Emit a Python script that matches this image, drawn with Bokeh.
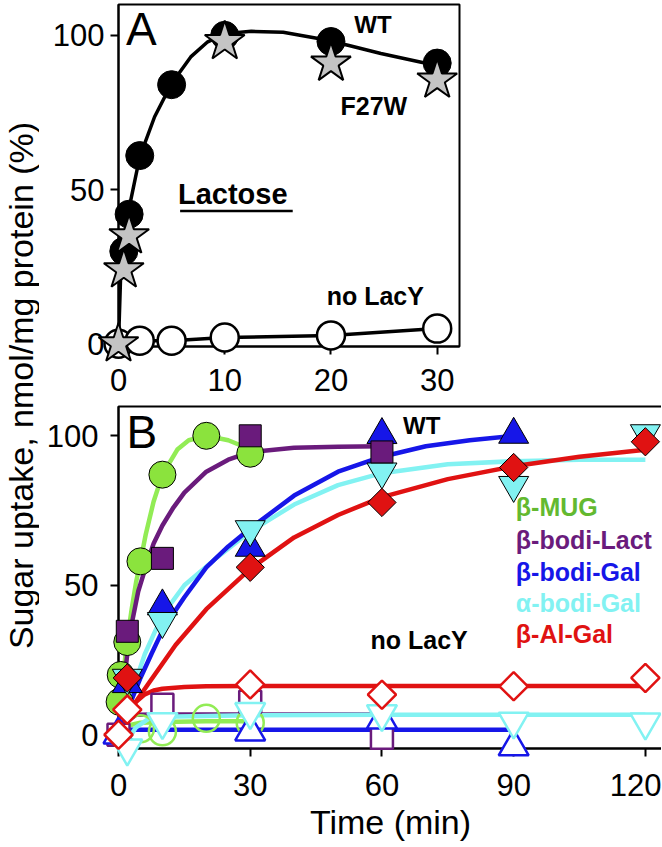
import numpy as np
from bokeh.plotting import figure
from bokeh.layouts import row, column
from bokeh.models import Range1d, FixedTicker, Label
from bokeh.embed import file_html
from bokeh.resources import INLINE
from bokeh.core.properties import value

FONT = "Liberation Sans"

# ---------------- Panel A (lactose) ----------------
a_wt_t = [0, 0.5, 1, 2, 5, 10, 20, 30]
a_wt_y = [0, 30, 42, 61, 84, 100, 98, 91]
a_f27w_t = [0, 0.5, 1, 10, 20, 30]
a_f27w_y = [0, 24, 35, 98, 91, 85.5]
a_nolacy_t = [0, 2, 5, 10, 20, 30]
a_nolacy_y = [0, 1, 1, 2, 2.7, 4.9]
a_fit_t = [0, 0.2, 0.6, 1, 2, 3.4, 5, 6.8, 8.4, 10, 12.5, 15.5, 18.8, 21.6, 24.7, 28.5, 30]
a_fit_y = [0, 22, 36, 44, 60.6, 73.6, 84.4, 93, 97.9, 100.5, 101.3, 101, 99, 96.8, 94.1, 91.3, 90.3]

# ---------------- Panel B (sugars) ----------------
b_mug_t = [0.25, 0.5, 2, 5, 10, 20, 30]
b_mug_y = [11, 20, 31, 58, 87, 100, 94]
b_mug_fit_t = [0, 0.5, 1, 2, 3, 4, 5, 6.2, 8, 10, 13.4, 16, 20, 25, 30]
b_mug_fit_y = [0, 10, 19, 32, 42, 51, 58, 67, 78, 87, 95.4, 98.5, 100, 98.5, 95.5]
b_mug_ctl_t = [5, 10, 20, 30]
b_mug_ctl_y = [2, 1, 5.5, 4]
b_mug_ctl_fit_t = [0, 2, 5, 10, 20, 30]
b_mug_ctl_fit_y = [0, 3, 4, 4.3, 4.5, 4.5]

b_lact_t = [0, 2, 10, 30, 60]
b_lact_y = [0, 34.6, 59, 100, 94.6]
b_lact_fit_t = [0, 1, 2, 3, 4.5, 6.6, 8, 10, 12.5, 15, 20, 25, 30, 40, 50, 60]
b_lact_fit_y = [0, 14, 27, 37, 48, 58, 64, 70, 76, 81, 88, 92, 94.5, 96, 96.3, 96.5]
b_lact_ctl_t = [0, 10, 30, 60]
b_lact_ctl_y = [0, 10, 11, -1]
b_lact_ctl_fit_t = [0, 2, 4, 10, 30, 60]
b_lact_ctl_fit_y = [0, 4.5, 6.7, 6.8, 6.8, 6.8]

b_gal_t = [0, 2, 10, 30, 60, 90]
b_gal_y = [0, 17, 43, 62.6, 100.3, 100.4]
b_gal_fit_t = [0, 2.8, 5, 7.5, 10.4, 15, 20, 25, 30, 40, 50, 60, 70, 80, 90]
b_gal_fit_y = [0, 11, 19, 27, 36, 46, 56, 63, 69, 80, 88, 93, 96.5, 98.5, 100]
b_gal_ctl_t = [0, 30, 60, 90]
b_gal_ctl_y = [0, 1, 5, -4]
b_gal_ctl_fit_t = [0, 90]
b_gal_ctl_fit_y = [1.7, 1.7]

b_agal_t = [2, 10, 30, 60, 90, 120]
b_agal_y = [19, 38, 68.7, 88, 83.5, 100.8]
b_agal_fit_t = [0, 3, 6, 10, 15, 22.6, 30, 40, 50, 60, 75, 90, 105, 120]
b_agal_fit_y = [0, 14, 27, 40, 50, 59.5, 68, 77, 83.5, 87.5, 90.5, 91.5, 92, 92]
b_agal_ctl_t = [2, 10, 30, 60, 90, 120]
b_agal_ctl_y = [-4.5, 4.3, 7.7, 7, 4.5, 4.2]
b_agal_ctl_fit_t = [2, 4, 7, 10, 30, 60, 90, 120]
b_agal_ctl_fit_y = [-2, 2.5, 5.5, 6.0, 6.5, 6.7, 6.7, 6.7]

b_al_t = [2, 30, 60, 90, 120]
b_al_y = [19, 56, 77.7, 89.4, 98]
b_al_fit_t = [0, 3, 7, 13, 20, 30, 40, 50, 60, 75, 90, 105, 120]
b_al_fit_y = [0, 9, 17.5, 30, 42, 55.5, 66, 73.5, 79.5, 85.5, 89.8, 93, 95.3]
b_al_ctl_t = [0, 2, 30, 60, 90, 120]
b_al_ctl_y = [0, 8.4, 16.8, 13.4, 16.2, 19]
b_al_ctl_fit_t = [2, 4, 6, 8, 10, 15, 20, 30, 60, 90, 120]
b_al_ctl_fit_y = [8, 11, 13.5, 14.8, 15.4, 16, 16.2, 16.3, 16.3, 16.3, 16.3]

legend_names = ["β-MUG", "β-bodi-Lact", "β-bodi-Gal", "α-bodi-Gal", "β-Al-Gal"]

GREEN, GREEN_L, GREEN_T = "#8BE33D", "#92EC55", "#63B930"
PURPLE = "#6A1B7C"
BLUE = "#1616E8"
CYAN = "#82F2F2"
RED = "#E01212"

TICK_FS = "31px"
STRIP_W = 39


def style(p, xticks, yticks, xstand, ystand):
    p.grid.visible = False
    p.outline_line_color = "black"
    p.outline_line_width = 2
    p.outline_line_alpha = 1.0
    for ax in (p.xaxis[0], p.yaxis[0]):
        ax.axis_line_width = 2
        ax.axis_line_color = "black"
        ax.major_tick_line_width = 2
        ax.major_tick_line_color = "black"
        ax.major_tick_in = 0
        ax.major_tick_out = 8
        ax.minor_tick_in = 0
        ax.minor_tick_out = 0
        ax.major_label_text_font = FONT
        ax.major_label_text_font_size = TICK_FS
        ax.major_label_text_color = "black"
    p.xaxis[0].ticker = FixedTicker(ticks=xticks)
    p.yaxis[0].ticker = FixedTicker(ticks=yticks)
    p.xaxis[0].major_label_standoff = xstand
    p.yaxis[0].major_label_standoff = ystand


def txt(p, x, y, s, size, color="black", bold=True):
    p.add_layout(Label(x=x, y=y, text=s, text_font=FONT, text_font_size=f"{size}px",
                       text_font_style="bold" if bold else "normal", text_color=color,
                       text_baseline="alphabetic", text_align="left"))


# ---------- y-axis title strip ----------
lab = figure(width=STRIP_W, height=847, x_range=Range1d(0, STRIP_W), y_range=Range1d(0, 847),
             min_border=0, toolbar_location=None, output_backend="svg", title=None,
             x_axis_location=None, y_axis_location=None)
lab.grid.visible = False
lab.outline_line_color = None
lab.text(x=[20.5], y=[462], text=["Sugar uptake, nmol/mg protein (%)"], angle=np.pi / 2,
         text_align="center", text_baseline="alphabetic", text_font=value(FONT),
         text_font_size="34px", text_color="black")

# ---------- Panel A ----------
pA = figure(x_range=Range1d(0, 32.1), y_range=Range1d(-0.9, 110),
            frame_width=341, frame_height=342,
            min_border_left=118 - STRIP_W, min_border_right=5, min_border_top=4,
            min_border_bottom=59,
            toolbar_location=None, output_backend="svg", title=None)
style(pA, [0, 10, 20, 30], [0, 50, 100], 14, 6)

pA.line(a_fit_t, a_fit_y, line_color="black", line_width=3.5, line_join="round")
pA.line(a_nolacy_t, a_nolacy_y, line_color="black", line_width=3.5, line_join="round")
pA.scatter(a_wt_t, a_wt_y, marker="circle", size=28, fill_color="black",
           line_color="black", level="overlay")
pA.scatter(a_nolacy_t, a_nolacy_y, marker="circle", size=28, fill_color="white",
           line_color="black", line_width=2.5, level="overlay")
pA.scatter(a_f27w_t, a_f27w_y, marker="star", size=42, fill_color="#C4C4C4",
           line_color="black", line_width=2, level="overlay")

txt(pA, 0.7, 101.9, "A", 46, bold=False)
txt(pA, 22.2, 103.6, "WT", 24)
txt(pA, 20.9, 77.2, "F27W", 25)
txt(pA, 5.6, 48.5, "Lactose", 29)
pA.line([5.8, 16.4], [43.0, 43.0], line_color="black", line_width=2.5)
txt(pA, 19.6, 15.5, "no LacY", 25)

# ---------- Panel B ----------
pB = figure(x_range=Range1d(0, 123.9), y_range=Range1d(-4.6, 109.8),
            frame_width=544, frame_height=342,
            min_border_left=111 - STRIP_W, min_border_right=3, min_border_top=1,
            min_border_bottom=99,
            toolbar_location=None, output_backend="svg", title=None)
style(pB, [0, 30, 60, 90, 120], [0, 50, 100], 17, 12)
pB.xaxis[0].axis_label = "Time (min)"
pB.xaxis[0].axis_label_text_font = FONT
pB.xaxis[0].axis_label_text_font_size = "34px"
pB.xaxis[0].axis_label_text_font_style = "normal"
pB.xaxis[0].axis_label_text_color = "black"
pB.xaxis[0].axis_label_standoff = 4

LW = 4.5
# control (no LacY) curves
pB.line(b_mug_ctl_fit_t, b_mug_ctl_fit_y, line_color=GREEN_L, line_width=LW)
pB.line(b_lact_ctl_fit_t, b_lact_ctl_fit_y, line_color=PURPLE, line_width=LW)
pB.line(b_gal_ctl_fit_t, b_gal_ctl_fit_y, line_color=BLUE, line_width=LW)
pB.line(b_agal_ctl_fit_t, b_agal_ctl_fit_y, line_color=CYAN, line_width=LW)
pB.line(b_al_ctl_fit_t, b_al_ctl_fit_y, line_color=RED, line_width=LW)
# WT curves
pB.line(b_mug_fit_t, b_mug_fit_y, line_color=GREEN_L, line_width=LW, line_join="round")
pB.line(b_lact_fit_t, b_lact_fit_y, line_color=PURPLE, line_width=LW, line_join="round")
pB.line(b_agal_fit_t, b_agal_fit_y, line_color=CYAN, line_width=LW, line_join="round")
pB.line(b_gal_fit_t, b_gal_fit_y, line_color=BLUE, line_width=LW, line_join="round")
pB.line(b_al_fit_t, b_al_fit_y, line_color=RED, line_width=LW, line_join="round")

# WT markers
pB.scatter(b_mug_t, b_mug_y, marker="circle", size=27, fill_color=GREEN,
           line_color="black", line_width=1, level="overlay")
pB.scatter(b_gal_t, b_gal_y, marker="triangle", size=30, fill_color=BLUE,
           line_color="black", line_width=1, level="overlay")
pB.scatter(b_agal_t, b_agal_y, marker="inverted_triangle", size=30, fill_color=CYAN,
           line_color="black", line_width=1, level="overlay")
pB.scatter(b_lact_t, b_lact_y, marker="square", size=22, fill_color=PURPLE,
           line_color="black", line_width=1, level="overlay")
pB.scatter(b_al_t, b_al_y, marker="square", size=20, angle=np.pi / 4, fill_color=RED,
           line_color="black", line_width=1, level="overlay")
# no LacY markers
pB.scatter(b_mug_ctl_t, b_mug_ctl_y, marker="circle", size=27, fill_color=None,
           line_color=GREEN_L, line_width=2.5, level="overlay")
pB.scatter(b_lact_ctl_t, b_lact_ctl_y, marker="square", size=22, fill_color="white",
           line_color=PURPLE, line_width=2.5, level="overlay")
pB.scatter(b_gal_ctl_t, b_gal_ctl_y, marker="triangle", size=30, fill_color="white",
           line_color=BLUE, line_width=2.5, level="overlay")
pB.scatter(b_agal_ctl_t, b_agal_ctl_y, marker="inverted_triangle", size=30, fill_color="white",
           line_color=CYAN, line_width=2.5, level="overlay")
pB.scatter(b_al_ctl_t, b_al_ctl_y, marker="square", size=20, angle=np.pi / 4, fill_color="white",
           line_color=RED, line_width=2.5, level="overlay")

txt(pB, 1.8, 101.2, "B", 46, bold=False)
txt(pB, 64.8, 103.3, "WT", 24)
txt(pB, 57.4, 31.7, "no LacY", 25)
legend_colors = [GREEN_T, PURPLE, BLUE, CYAN, RED]
legend_y = [76.1, 65.1, 54.6, 44.1, 33.7]
for name, col, yy in zip(legend_names, legend_colors, legend_y):
    txt(pB, 90.5, yy, name, 25, color=col)

layout = row(lab, column(pA, pB, spacing=0), spacing=0)
open("out.html", "w").write(file_html(layout, INLINE))
